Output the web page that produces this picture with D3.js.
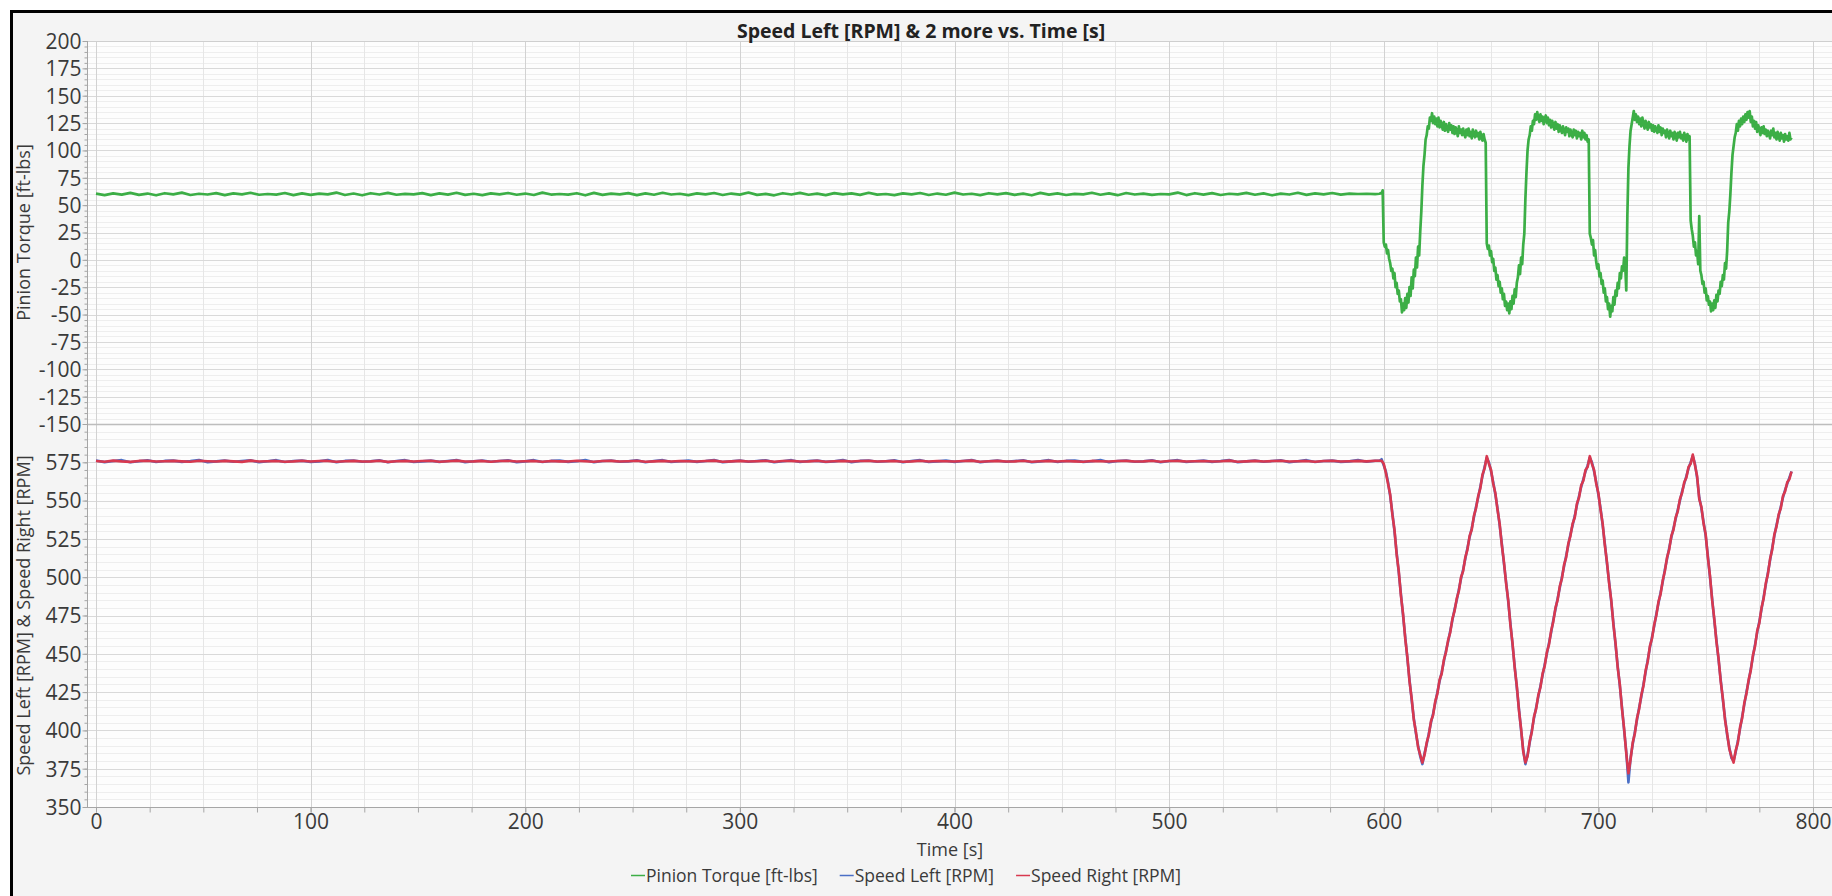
<!DOCTYPE html>
<html><head><meta charset="utf-8">
<script src="https://cdn.jsdelivr.net/npm/d3@7"></script>
<style>body{margin:0;background:#fff;overflow:hidden}svg{display:block;font-family:"Open Sans",sans-serif}</style>
</head><body><svg id="c" width="1832" height="896"></svg>
<script>
const chartTitle = "Speed Left [RPM] & 2 more vs. Time [s]";
const xAxisTitle = "Time [s]";
const torqueAxisTitle = "Pinion Torque [ft-lbs]";
const speedAxisTitle = "Speed Left [RPM] & Speed Right [RPM]";
const seriesNames = ["Pinion Torque [ft-lbs]", "Speed Left [RPM]", "Speed Right [RPM]"];
const seriesColors = ["#3cae46", "#4a6fc6", "#d8384f"];
const xTicks = [0, 100, 200, 300, 400, 500, 600, 700, 800];
const torqueTicks = [200, 175, 150, 125, 100, 75, 50, 25, 0, -25, -50, -75, -100, -125, -150];
const speedTicks = [575, 550, 525, 500, 475, 450, 425, 400, 375, 350];

// steady part: samples every 4 s from t = 0
const flatStart = 0, flatStep = 4;
const torqueFlat = [
60.5,59.2,60.8,59.6,61.2,59.4,60.6,59.0,60.9,59.8,
61.4,59.3,60.4,59.7,61.0,59.1,60.7,59.9,61.3,59.5,
60.2,59.6,61.1,59.2,60.8,59.4,60.5,59.8,61.5,59.3,
60.6,59.0,60.9,59.7,61.2,59.5,60.3,59.9,61.0,59.2,
60.7,59.6,61.3,59.4,60.4,59.1,60.8,59.8,61.1,59.5,
60.6,59.3,61.4,59.7,60.2,59.6,60.9,59.0,61.2,59.4,
60.5,59.9,61.0,59.2,60.8,59.5,61.3,59.7,60.4,59.1,
60.7,59.8,61.1,59.3,60.6,59.6,61.5,59.4,60.3,59.0,
60.9,59.7,61.2,59.5,60.5,59.2,61.0,59.8,60.8,59.4,
61.3,59.6,60.2,59.1,60.7,59.9,61.1,59.3,60.6,59.5,
61.4,59.7,60.4,59.2,60.9,59.8,61.0,59.4,60.5,59.0,
61.2,59.6,60.8,59.3,60.3,59.9,61.3,59.5,60.7,59.1,
61.1,59.7,60.6,59.4,60.2,59.8,61.5,59.2,60.9,59.6,
61.0,59.3,60.4,59.9,61.2,59.5,60.8,59.0,60.5,59.7,
61.3,59.4,60.7,59.8,61.1,59.6,60.6,60.2,60.4,60.1];
const speedLeftFlat = [
576.2,575.1,575.8,576.4,575.0,575.7,576.3,575.2,575.9,576.1,
575.3,575.8,576.5,575.1,575.6,576.2,575.4,575.9,576.3,575.0,
575.7,576.4,575.2,575.8,576.1,575.3,575.6,576.5,575.1,575.9,
576.2,575.4,575.7,576.3,575.0,575.8,576.4,575.2,575.6,576.1,
575.3,575.9,576.5,575.1,575.7,576.2,575.4,575.8,576.3,575.0,
575.6,576.4,575.2,575.9,576.1,575.3,575.7,576.5,575.1,575.8,
576.2,575.4,575.6,576.3,575.0,575.9,576.4,575.2,575.7,576.1,
575.3,575.8,576.5,575.1,575.6,576.2,575.4,575.9,576.3,575.0,
575.7,576.4,575.2,575.8,576.1,575.3,575.6,576.5,575.1,575.9,
576.2,575.4,575.7,576.3,575.0,575.8,576.4,575.2,575.6,576.1,
575.3,575.9,576.5,575.1,575.7,576.2,575.4,575.8,576.3,575.0,
575.6,576.4,575.2,575.9,576.1,575.3,575.7,576.5,575.1,575.8,
576.2,575.4,575.6,576.3,575.0,575.9,576.4,575.2,575.7,576.1,
575.3,575.8,576.5,575.1,575.6,576.2,575.4,575.9,576.3,575.0,
575.7,576.4,575.2,575.8,576.1,575.3,575.6,576.5,575.4,576.0];
const speedRightFlat = [
575.8,575.4,576.1,575.6,575.3,575.9,576.0,575.5,575.7,575.9,
575.6,575.4,576.0,575.7,575.5,575.9,575.6,575.3,576.1,575.5,
575.7,575.9,575.4,575.6,576.0,575.5,575.8,575.9,575.4,575.7,
575.9,575.5,575.6,576.0,575.3,575.7,575.9,575.5,575.8,576.0,
575.4,575.7,576.1,575.5,575.6,575.9,575.4,575.8,576.0,575.5,
575.7,575.9,575.4,575.8,575.6,575.5,576.0,575.7,575.4,575.8,
575.9,575.5,575.7,576.0,575.4,575.6,575.9,575.5,575.8,575.7,
575.5,575.8,576.1,575.4,575.6,575.9,575.5,575.7,576.0,575.4,
575.8,575.9,575.5,575.6,576.0,575.4,575.7,575.9,575.5,575.8,
576.0,575.5,575.7,575.9,575.4,575.6,576.0,575.5,575.8,575.7,
575.5,575.8,576.1,575.4,575.7,575.9,575.5,575.6,576.0,575.4,
575.7,575.9,575.5,575.8,575.6,575.4,575.9,575.7,575.5,575.8,
575.9,575.5,575.6,576.0,575.4,575.8,575.9,575.5,575.7,575.8,
575.5,575.7,576.1,575.4,575.6,575.9,575.5,575.8,576.0,575.5,
575.7,575.9,575.4,575.8,576.0,575.5,575.7,575.9,575.6,576.0];

// cycling part of torque: samples every 0.5 s from t = 598
const torqueOscStart = 598, torqueOscStep = 0.5;
const torqueOsc = [
60.4,60.8,61.0,63.5,16,12,14,6,9,1,
-3,-10,-8,-17,-12,-25,-21,-31,-28,-38,
-36,-48,-40,-46,-35,-44,-31,-39,-25,-33,
-16,-26,-9,-15,2,-7,12,4,26,44,
68,86,96,110,114,122,120,130,127,134,
125,131,124,129,122,130,121,127,123,119,
126,118,124,120,117,125,119,123,116,122,
115,121,118,113,122,116,119,114,120,115,
112,119,114,120,113,117,111,119,115,112,
118,113,116,110,117,112,109,115,110,107,
15,10,13,4,8,-2,1,-10,-7,-18,
-14,-24,-20,-30,-26,-36,-31,-42,-38,-46,
-40,-49,-38,-45,-33,-40,-27,-34,-21,-16,
-5,-13,2,-4,14,24,56,80,100,110,
114,122,118,127,124,133,128,135,130,126,
133,127,131,124,129,132,125,130,123,128,
121,127,123,119,126,120,124,117,123,119,
116,122,118,114,121,117,120,113,119,115,
112,119,114,118,111,117,113,116,110,118,
112,116,110,114,108,110,24,20,14,18,
4,9,-2,-8,-4,-15,-12,-22,-19,-30,
-26,-38,-34,-45,-40,-52,-42,-47,-34,-41,
-28,-33,-21,-26,-12,-17,-6,-10,2,-4,
-28,40,84,104,118,124,130,136,128,133,
126,131,124,129,122,130,125,120,127,123,
119,126,121,124,118,123,117,122,119,116,
123,117,121,114,120,116,118,112,119,115,
111,118,113,116,110,117,114,109,116,112,
117,111,114,109,116,112,108,115,110,113,
36,28,22,12,16,4,8,-4,40,-10,
-14,-22,-20,-30,-26,-37,-33,-41,-38,-47,
-40,-46,-37,-44,-32,-38,-28,-31,-20,-24,
-14,-18,-3,-8,8,34,44,60,80,96,
104,112,116,124,118,127,122,129,124,131,
126,133,128,135,130,136,126,131,122,127,
120,126,117,123,119,114,121,116,122,115,
119,113,118,115,111,118,114,120,112,116,
110,117,113,109,116,111,114,108,115,110,
113,109,116,110,112];

// cycling part of speeds: samples every 1 s from t = 598
const speedOscStart = 598, speedOscStep = 1;
const speedLeftOsc = [
576,577,573,569,562,553,542,530,516,503,
489,475,461,447,433,420,408,398,390,383,
378,385,391,398,405,411,418,425,432,438,
445,452,458,465,472,479,485,492,499,505,
512,519,526,532,539,546,552,559,566,572,
578,575,569,562,554,545,534,522,509,497,
484,470,456,442,428,414,400,387,378,384,
392,400,408,415,422,429,436,443,450,457,
464,472,479,486,493,500,507,514,521,528,
534,540,547,553,559,564,569,573,578,575,
569,562,554,545,534,522,509,497,484,470,
456,442,429,415,400,386,366,382,391,399,
407,415,422,430,438,446,454,461,468,476,
483,490,497,505,512,519,526,532,538,544,
550,556,561,566,571,575,579,574,565,552,
545,536,527,514,500,486,472,459,446,433,
420,408,397,389,382,380,386,393,401,409,
417,425,432,440,448,456,464,471,479,487,
495,503,511,519,527,534,540,546,552,557,
561,565,569];
const speedRightOsc = [
576,576,574,568,561,554,541,531,515,504,
488,476,460,448,432,421,407,399,389,384,
379,384,392,397,406,410,419,424,433,437,
446,451,459,464,473,478,486,491,500,504,
513,518,527,531,540,545,553,558,567,571,
579,574,570,561,555,544,535,521,510,496,
485,469,457,441,429,413,401,386,379,383,
393,399,409,414,423,428,437,442,451,456,
465,471,480,485,494,499,508,513,522,527,
535,539,548,552,560,563,570,572,579,574,
570,561,555,544,535,521,510,496,485,469,
457,441,430,414,401,385,372,381,392,398,
408,414,423,429,439,445,455,460,469,475,
484,489,498,504,513,518,527,531,539,543,
551,555,562,565,572,574,580,573,566,551,
546,535,528,513,501,485,473,458,447,432,
421,407,398,388,383,379,387,392,402,408,
418,424,433,439,449,455,465,470,480,486,
496,502,512,518,528,533,541,545,553,556,
562,564,569];

function series(flat, osc, oStart, oStep) {
  return flat.map((v, i) => ({t: flatStart + i * flatStep, v}))
    .concat(osc.map((v, i) => ({t: oStart + i * oStep, v})));
}
const torqueData = series(torqueFlat, torqueOsc, torqueOscStart, torqueOscStep);
const speedLeftData = series(speedLeftFlat, speedLeftOsc, speedOscStart, speedOscStep);
const speedRightData = series(speedRightFlat, speedRightOsc, speedOscStart, speedOscStep);

const W = 1832, H = 896;
const plotL = 87, plotR = 1832, topY = 41, midY = 424, botY = 807;
const x = d3.scaleLinear().domain([0, 800]).range([96, 1813]);
const yT = d3.scaleLinear().domain([-150, 200]).range([midY, topY]);
const yS = d3.scaleLinear().domain([350, 600]).range([botY, midY]);
const svg = d3.select("#c");
const txt = "#3a3a3a";
const tickFont = "21px", titleFont = "18px", legendFont = "17.5px";
const fmt = d => String(d);

svg.append("rect").attr("width", W).attr("height", H).attr("fill", "#fff");
svg.append("rect").attr("x", 12).attr("y", 12).attr("width", W).attr("height", H).attr("fill", "#f4f4f4");
svg.append("rect").attr("x", plotL).attr("y", topY).attr("width", plotR - plotL).attr("height", botY - topY).attr("fill", "#fdfdfd");
svg.append("line").attr("x1", 10).attr("x2", W).attr("y1", 11.5).attr("y2", 11.5).attr("stroke", "#000").attr("stroke-width", 3);
svg.append("line").attr("x1", 11.5).attr("x2", 11.5).attr("y1", 10).attr("y2", H).attr("stroke", "#000").attr("stroke-width", 3);

const xMax = x.invert(plotR);
const grid = svg.append("g");
function hgrid(scale, lo, hi, step, color) {
  grid.selectAll(null).data(d3.range(lo, hi + 0.001, step)).enter().append("line")
    .attr("x1", plotL).attr("x2", plotR)
    .attr("y1", d => Math.round(scale(d)) + 0.5).attr("y2", d => Math.round(scale(d)) + 0.5)
    .attr("stroke", color).attr("stroke-width", 1);
}
hgrid(yT, -150, 200, 5, "#eeeeee");
hgrid(yS, 350, 600, 5, "#eeeeee");
grid.selectAll(null).data(d3.range(0, xMax, 25).filter(d => d % 100 !== 0)).enter().append("line")
  .attr("y1", topY).attr("y2", botY)
  .attr("x1", d => Math.round(x(d)) + 0.5).attr("x2", d => Math.round(x(d)) + 0.5)
  .attr("stroke", "#e6e6e6");
hgrid(yT, -125, 200, 25, "#d9d9d9");
hgrid(yS, 350, 575, 25, "#d9d9d9");
grid.selectAll(null).data(xTicks).enter().append("line")
  .attr("y1", topY).attr("y2", botY)
  .attr("x1", d => Math.round(x(d)) + 0.5).attr("x2", d => Math.round(x(d)) + 0.5)
  .attr("stroke", "#d2d2d2");
svg.append("line").attr("x1", plotL).attr("x2", plotR).attr("y1", midY + 0.5).attr("y2", midY + 0.5).attr("stroke", "#bdbdbd").attr("stroke-width", 1.5);
svg.append("line").attr("x1", plotL).attr("x2", plotR).attr("y1", topY + 0.5).attr("y2", topY + 0.5).attr("stroke", "#cfcfcf");

const axisColor = "#a6a6a6";
function yAxis(scale, ticks, lo, hi) {
  const g = svg.append("g").attr("transform", `translate(${plotL + 0.5},0)`);
  g.call(d3.axisLeft(scale).tickValues(d3.range(lo, hi + 0.001, 5)).tickSize(3).tickFormat(""));
  const g2 = svg.append("g").attr("transform", `translate(${plotL + 0.5},0)`);
  g2.call(d3.axisLeft(scale).tickValues(ticks).tickSize(5).tickPadding(1).tickFormat(fmt));
  [g, g2].forEach(a => {
    a.selectAll("path,line").attr("stroke", axisColor);
    a.select(".domain").remove();
  });
  g2.selectAll("text").attr("fill", txt).style("font-size", tickFont).style("font-family", "Open Sans").attr("dy", "0.35em");
}
yAxis(yT, torqueTicks, -150, 200);
yAxis(yS, speedTicks, 350, 600);
svg.append("line").attr("x1", plotL + 0.5).attr("x2", plotL + 0.5).attr("y1", topY).attr("y2", botY).attr("stroke", axisColor);

const gx = svg.append("g").attr("transform", `translate(0,${botY + 0.5})`);
gx.call(d3.axisBottom(x).tickValues(d3.range(0, xMax, 25)).tickSize(5).tickFormat(""));
const gx2 = svg.append("g").attr("transform", `translate(0,${botY + 0.5})`);
gx2.call(d3.axisBottom(x).tickValues(xTicks).tickSize(5).tickPadding(2).tickFormat(fmt));
[gx, gx2].forEach(a => { a.selectAll("path,line").attr("stroke", axisColor); a.select(".domain").remove(); });
gx2.selectAll("text").attr("fill", txt).style("font-size", tickFont).style("font-family", "Open Sans");
svg.append("line").attr("x1", plotL).attr("x2", plotR).attr("y1", botY + 0.5).attr("y2", botY + 0.5).attr("stroke", axisColor);

const defs = svg.append("defs");
defs.append("clipPath").attr("id", "clipT").append("rect").attr("x", plotL).attr("y", topY).attr("width", plotR - plotL).attr("height", midY - topY);
defs.append("clipPath").attr("id", "clipS").append("rect").attr("x", plotL).attr("y", midY).attr("width", plotR - plotL).attr("height", botY - midY);

const lineT = d3.line().x(d => x(d.t)).y(d => yT(d.v));
const lineS = d3.line().x(d => x(d.t)).y(d => yS(d.v));
svg.append("path").datum(torqueData).attr("clip-path", "url(#clipT)").attr("d", lineT)
  .attr("fill", "none").attr("stroke", seriesColors[0]).attr("stroke-width", 2.7).attr("stroke-linejoin", "round");
svg.append("path").datum(speedLeftData).attr("clip-path", "url(#clipS)").attr("d", lineS)
  .attr("fill", "none").attr("stroke", seriesColors[1]).attr("stroke-width", 2.6).attr("stroke-linejoin", "round");
svg.append("path").datum(speedRightData).attr("clip-path", "url(#clipS)").attr("d", lineS)
  .attr("fill", "none").attr("stroke", seriesColors[2]).attr("stroke-width", 2.6).attr("stroke-linejoin", "round");

svg.append("text").attr("x", 921).attr("y", 38).attr("text-anchor", "middle")
  .style("font-size", "19.5px").style("font-weight", "700").attr("fill", "#222").text(chartTitle);
svg.append("text").attr("x", 950).attr("y", 856).attr("text-anchor", "middle")
  .style("font-size", titleFont).attr("fill", txt).text(xAxisTitle);
svg.append("text").attr("transform", `translate(30,${(topY + midY) / 2}) rotate(-90)`).attr("text-anchor", "middle")
  .style("font-size", titleFont).attr("fill", txt).text(torqueAxisTitle);
svg.append("text").attr("transform", `translate(30,${(midY + botY) / 2}) rotate(-90)`).attr("text-anchor", "middle")
  .style("font-size", titleFont).attr("fill", txt).text(speedAxisTitle);

let lx = 631;
const ly = 875;
seriesNames.forEach((name, i) => {
  svg.append("line").attr("x1", lx).attr("x2", lx + 14).attr("y1", ly + 0.5).attr("y2", ly + 0.5)
    .attr("stroke", seriesColors[i]).attr("stroke-width", 1.5);
  const t = svg.append("text").attr("x", lx + 15).attr("y", ly + 6.5).style("font-size", legendFont).attr("fill", txt).text(name);
  lx += 15 + t.node().getComputedTextLength() + 22;
});
</script></body></html>
